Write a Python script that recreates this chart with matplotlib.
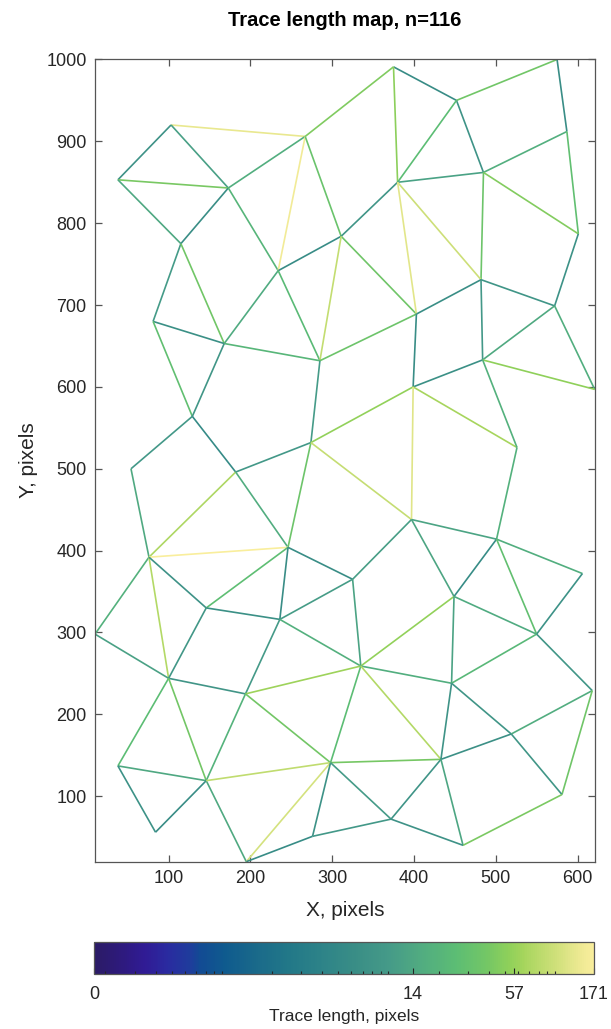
import numpy as np
import matplotlib
matplotlib.use("Agg")
import matplotlib.pyplot as plt
from matplotlib.collections import LineCollection
from matplotlib.colors import LinearSegmentedColormap, LogNorm, Normalize
from matplotlib.cm import ScalarMappable
from matplotlib.ticker import LogLocator, NullFormatter, FixedLocator

plt.rcParams['font.family'] = ['Liberation Sans', 'DejaVu Sans']

# ---- data: trace end points (node coordinates, pixels) ----
node_names = ["A", "B", "C", "D", "E", "F", "G", "H", "I", "J", "K", "L", "M", "N", "O", "P", "Q",
              "R", "S", "T", "U", "V", "W", "X1", "Y1", "Z",
              "AB", "AC", "AD", "AE", "AF", "AG", "AH", "AI", "AJ",
              "BA", "BB", "BC", "BD", "BE", "BF", "BG", "BH", "BI", "BJ", "BK",
              "CB", "CC", "CD", "CE", "CF", "CG", "CH", "CI", "CJ"]
node_x = [103, 267, 38, 173, 115, 234, 311, 375, 452, 575, 587, 485, 380, 601, 482, 403, 572,
          81, 168, 285, 129, 54, 182, 274, 76, 246,
          399, 484, 621, 526, 397, 501, 606, 325, 449,
          146, 236, 10, 100, 194, 38, 146, 84, 195, 298, 276,
          550, 335, 446, 618, 519, 433, 581, 372, 460]
node_y = [920, 906, 853, 843, 775, 742, 784, 991, 950, 1000, 912, 862, 850, 787, 731, 689, 699,
          680, 653, 632, 564, 500, 496, 532, 392, 404,
          600, 633, 597, 526, 438, 414, 372, 365, 344,
          330, 316, 298, 244, 225, 137, 119, 56, 20, 141, 51,
          298, 259, 238, 229, 176, 145, 102, 72, 40]

# ---- data: traces (pairs of node names) ----
trace_start = ["A", "A", "A", "C", "C", "D", "D", "D", "B", "B", "B", "F", "F", "F", "E", "E",
               "G", "G", "G", "H", "H", "I", "I", "I", "J", "K", "K", "L", "L", "L", "M", "M",
               "N", "O", "O", "O", "P", "P", "Q", "Q", "R", "R", "S", "S", "T", "U", "U", "V",
               "W", "W", "W", "X1", "X1", "X1", "Y1", "Y1", "Y1", "Y1", "Z", "Z", "Z",
               "AB", "AB", "AB", "AC", "AC", "AE", "AF", "AF", "AF", "AG", "AG", "AG", "AH",
               "AI", "AI", "AJ", "AJ", "AJ", "BA", "BA", "BB", "BB", "BC", "BD", "BD", "BD",
               "BE", "BE", "BE", "BF", "BF", "BG", "BG", "BG", "BI", "BI", "BJ", "BJ", "BJ", "BJ",
               "BK", "CB", "CB", "CC", "CC", "CD", "CD", "CE", "CE", "CF", "CF", "CG", "CG",
               "CH", "CI"]
trace_end = ["B", "C", "D", "D", "E", "E", "B", "F", "F", "G", "H", "G", "S", "T", "R", "S",
             "M", "P", "T", "I", "M", "J", "L", "M", "K", "L", "N", "M", "N", "O", "O", "P",
             "Q", "P", "Q", "AC", "T", "AB", "AC", "AD", "S", "U", "T", "U", "X1", "V", "W", "Y1",
             "X1", "Y1", "Z", "Z", "AB", "AF", "Z", "BC", "BD", "BA", "BA", "BB", "AI",
             "AC", "AE", "AF", "AD", "AE", "AG", "AG", "AI", "AJ", "AJ", "AH", "CB", "CB",
             "CC", "BB", "CC", "CD", "CB", "BB", "BD", "BE", "CC", "BD", "BE", "BF", "BG",
             "BG", "CC", "BJ", "BG", "BH", "BH", "BI", "BJ", "BJ", "BK", "BK", "CC", "CG", "CI",
             "CI", "CD", "CE", "CD", "CG", "CG", "CF", "CF", "CH", "CG", "CH", "CI", "CJ",
             "CJ", "CJ"]

cbar_tick_values = [0.171, 14, 57, 171]
cbar_tick_labels = ["0", "14", "57", "171"]

# ---- colormap (light parula-like) ----
cmap_pos = [0.0, 0.06, 0.10, 0.145, 0.19, 0.21, 0.26, 0.325, 0.39, 0.46, 0.525, 0.59,
            0.66, 0.725, 0.79, 0.83, 0.86, 0.925, 0.98, 1.0]
cmap_hex = ["#2b1b66", "#2e1a80", "#301b95", "#2a2aa0", "#1f3c9c", "#124a94", "#0f5a8e",
            "#1a6a8a", "#227888", "#2e8488", "#3a8e86", "#459a88", "#52ad80", "#5cbd74",
            "#75c765", "#8ed05a", "#a5d55c", "#cfe07a", "#f0ea95", "#f9ee9c"]
cmap = LinearSegmentedColormap.from_list("lightparula", list(zip(cmap_pos, cmap_hex)))

# ---- build segments ----
idx = {n: i for i, n in enumerate(node_names)}
nx = np.array(node_x, float)
ny = np.array(node_y, float)
segs = []
for a, b in zip(trace_start, trace_end):
    segs.append([(nx[idx[a]], ny[idx[a]]), (nx[idx[b]], ny[idx[b]])])
segs = np.array(segs)
lengths = np.hypot(segs[:, 1, 0] - segs[:, 0, 0], segs[:, 1, 1] - segs[:, 0, 1])

fig = plt.figure(figsize=(6.11, 10.29), dpi=100)
ax = fig.add_axes([0.1555, 0.1626, 0.8178, 0.7796])
lc = LineCollection(segs, cmap=cmap, norm=Normalize(0, lengths.max()), linewidths=1.2)
lc.set_array(lengths)
ax.add_collection(lc)
ax.set_xlim(nx.min(), nx.max())
ax.set_ylim(ny.min(), ny.max())
ax.set_xticks(np.arange(100, 601, 100))
ax.set_yticks(np.arange(100, 1001, 100))
axcol = '#262626'
for s in ax.spines.values():
    s.set_color('#555555')
    s.set_linewidth(0.9)
ax.tick_params(direction='in', length=5, width=0.9, color='#555555', labelsize=13,
               labelcolor=axcol, top=True, right=True, pad=6)
ax.set_xlabel("X, pixels", fontsize=15, color=axcol, labelpad=10)
ax.set_ylabel("Y, pixels", fontsize=15, color=axcol, labelpad=6)
ax.set_title("Trace length map, n=116", fontsize=14.5, fontweight='bold', color='black', pad=24)

# ---- colorbar (log-scaled labels) ----
cax = fig.add_axes([0.1539, 0.0535, 0.818, 0.031])
sm = ScalarMappable(norm=LogNorm(vmin=cbar_tick_values[0], vmax=cbar_tick_values[-1]), cmap=cmap)
cb = fig.colorbar(sm, cax=cax, orientation='horizontal')
cb.outline.set_edgecolor('#555555')
cb.outline.set_linewidth(0.9)
cax.xaxis.set_major_locator(FixedLocator(cbar_tick_values))
cax.set_xticklabels(cbar_tick_labels)
cax.xaxis.set_minor_locator(LogLocator(base=10, subs=np.arange(1, 10)))
cax.xaxis.set_minor_formatter(NullFormatter())
cax.tick_params(axis='x', which='major', direction='in', length=4, width=0.8, color='#262626',
                labelsize=13, labelcolor=axcol, bottom=True, top=False, pad=9)
cax.tick_params(axis='x', which='minor', direction='in', length=2.5, width=0.8, color='#262626',
                bottom=True, top=False)
cax.set_xlabel("Trace length, pixels", fontsize=12.5, color=axcol, labelpad=4)

fig.savefig("out.png", dpi=100)
